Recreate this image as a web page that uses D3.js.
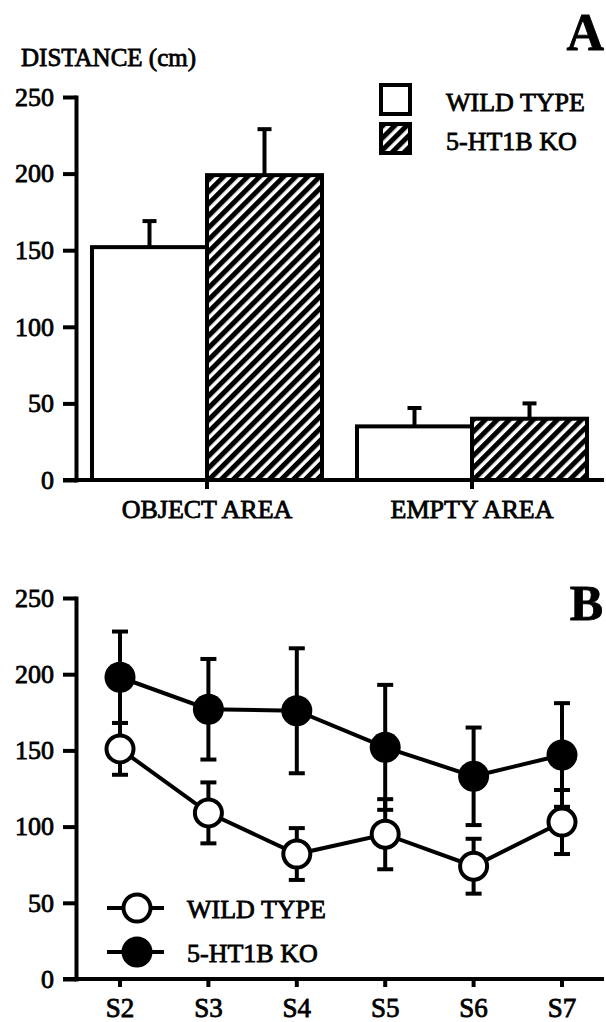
<!DOCTYPE html>
<html lang="en">
<head>
<meta charset="UTF-8">
<title>Distance - wild type vs 5-HT1B KO</title>
<script src="https://d3js.org/d3.v7.min.js"></script>
<style>
  body { margin: 0; background: #fff; }
  svg text { font-family: "Liberation Serif", "Times New Roman", serif; fill: #000; }
  .thick text { stroke: #000; stroke-width: 0.8px; }
</style>
</head>
<body>
<div id="chart"></div>
<script>
// panel A : distance by area
const areas = ["OBJECT AREA", "EMPTY AREA"];
const genotypes = ["WILD TYPE", "5-HT1B KO"];
const wtAreaMean = [152, 35];
const wtAreaSem = [17, 12];
const koAreaMean = [199, 40];
const koAreaSem = [30, 10];

// panel B : distance by session
const sessions = ["S2", "S3", "S4", "S5", "S6", "S7"];
const wtSessionMean = [151, 109, 82, 95, 74, 103];
const wtSessionSem = [17, 20, 17, 23, 18, 21];
const koSessionMean = [198, 177, 176, 152, 133, 147];
const koSessionSem = [30, 33, 41, 41, 32, 34];

const yTicks = [0, 50, 100, 150, 200, 250];

const W = 606, H = 1022;
const axisX = 76, rightEnd = 604, tick = 13;

const svg = d3.select("#chart").append("svg")
    .attr("width", W).attr("height", H)
    .attr("class", "thick");

// hatch pattern
const defs = svg.append("defs");
const pat = defs.append("pattern")
    .attr("id", "hatch")
    .attr("patternUnits", "userSpaceOnUse")
    .attr("width", 8.5).attr("height", 8.5)
    .attr("patternTransform", "rotate(45)");
pat.append("rect").attr("width", 8.5).attr("height", 8.5).attr("fill", "#fff");
pat.append("rect").attr("width", 5).attr("height", 8.5).attr("fill", "#000");

function yAxis(g, y) {
    g.attr("transform", "translate(" + axisX + ",0)")
        .call(d3.axisLeft(y).tickValues(yTicks).tickSize(tick).tickSizeOuter(0).tickPadding(9))
        .call(g => g.selectAll("path, line").attr("stroke", "#000").attr("stroke-width", 4))
        .call(g => g.select(".domain").attr("stroke-linecap", "square"))
        .call(g => g.selectAll("text").attr("font-size", 26).attr("font-family", null));
}

// ---------- panel A ----------
const yA = d3.scaleLinear().domain([0, 250]).range([480, 97]);
const xA = d3.scaleBand().domain(areas).range([74.5, 604.5]).paddingInner(0.132).paddingOuter(0.066);
const xSub = d3.scaleBand().domain(genotypes).range([0, xA.bandwidth()]);

const barData = [];
areas.forEach((a, i) => {
    barData.push({ area: a, g: genotypes[0], mean: wtAreaMean[i], sem: wtAreaSem[i] });
    barData.push({ area: a, g: genotypes[1], mean: koAreaMean[i], sem: koAreaSem[i] });
});

const gA = svg.append("g");

// error bars (upper only)
gA.selectAll(".errA").data(barData).enter().append("g")
    .each(function (d) {
        const cx = xA(d.area) + xSub(d.g) + xSub.bandwidth() / 2;
        const g = d3.select(this);
        g.append("line").attr("x1", cx).attr("x2", cx)
            .attr("y1", yA(d.mean)).attr("y2", yA(d.mean + d.sem))
            .attr("stroke", "#000").attr("stroke-width", 4);
        g.append("line").attr("x1", cx - 7).attr("x2", cx + 7)
            .attr("y1", yA(d.mean + d.sem)).attr("y2", yA(d.mean + d.sem))
            .attr("stroke", "#000").attr("stroke-width", 4);
    });

gA.selectAll(".bar").data(barData).enter().append("rect")
    .attr("x", d => xA(d.area) + xSub(d.g))
    .attr("width", xSub.bandwidth())
    .attr("y", d => yA(d.mean))
    .attr("height", d => yA(0) - yA(d.mean))
    .attr("fill", d => d.g === genotypes[0] ? "#fff" : "url(#hatch)")
    .attr("stroke", "#000").attr("stroke-width", 4);

gA.append("g").call(yAxis, yA);

// x axis A
gA.append("line").attr("x1", axisX - tick).attr("x2", rightEnd)
    .attr("y1", yA(0)).attr("y2", yA(0))
    .attr("stroke", "#000").attr("stroke-width", 4);
gA.selectAll(".xtA").data(areas).enter().append("line")
    .attr("x1", d => xA(d) + xA.bandwidth() / 2).attr("x2", d => xA(d) + xA.bandwidth() / 2)
    .attr("y1", yA(0)).attr("y2", yA(0) + 9)
    .attr("stroke", "#000").attr("stroke-width", 4);
gA.selectAll(".xlA").data(areas).enter().append("text")
    .attr("x", d => xA(d) + xA.bandwidth() / 2)
    .attr("y", yA(0) + 38)
    .attr("text-anchor", "middle")
    .attr("font-size", 26)
    .text(d => d);

gA.append("text").attr("x", 21).attr("y", 66).attr("font-size", 25).text("DISTANCE (cm)");
gA.append("text").attr("x", 604).attr("y", 50).attr("text-anchor", "end")
    .attr("font-size", 52).attr("font-weight", "bold").text("A");

// legend A
const legA = gA.append("g");
genotypes.forEach((g, i) => {
    const ly = 99 + i * 39;
    legA.append("rect").attr("x", 381).attr("y", ly - 14).attr("width", 29).attr("height", 29)
        .attr("fill", i === 0 ? "#fff" : "url(#hatch)")
        .attr("stroke", "#000").attr("stroke-width", 4);
    legA.append("text").attr("x", 446).attr("y", ly + 12).attr("font-size", 26).text(g);
});

// ---------- panel B ----------
const yB = d3.scaleLinear().domain([0, 250]).range([979, 598]);
const xB = d3.scalePoint().domain(sessions).range([120, 562]);

const gB = svg.append("g");

const series = [
    { name: genotypes[1], mean: koSessionMean, sem: koSessionSem, fill: "#000" },
    { name: genotypes[0], mean: wtSessionMean, sem: wtSessionSem, fill: "#fff" }
];

const line = d3.line().x((d, i) => xB(sessions[i])).y(d => yB(d));

series.forEach(s => {
    gB.append("path").datum(s.mean).attr("d", line)
        .attr("fill", "none").attr("stroke", "#000").attr("stroke-width", 4);
});

series.forEach(s => {
    sessions.forEach((sess, i) => {
        const cx = xB(sess), hi = yB(s.mean[i] + s.sem[i]), lo = yB(s.mean[i] - s.sem[i]);
        gB.append("line").attr("x1", cx).attr("x2", cx).attr("y1", hi).attr("y2", lo)
            .attr("stroke", "#000").attr("stroke-width", 4);
        [hi, lo].forEach(yy => gB.append("line")
            .attr("x1", cx - 8).attr("x2", cx + 8).attr("y1", yy).attr("y2", yy)
            .attr("stroke", "#000").attr("stroke-width", 4));
    });
});

series.forEach(s => {
    gB.selectAll(null).data(s.mean).enter().append("circle")
        .attr("cx", (d, i) => xB(sessions[i])).attr("cy", d => yB(d))
        .attr("r", s.fill === "#000" ? 15.5 : 13.5)
        .attr("fill", s.fill).attr("stroke", "#000").attr("stroke-width", s.fill === "#000" ? 0 : 4);
});

gB.append("g").call(yAxis, yB);

gB.append("line").attr("x1", axisX - tick).attr("x2", rightEnd)
    .attr("y1", yB(0)).attr("y2", yB(0))
    .attr("stroke", "#000").attr("stroke-width", 4);
gB.selectAll(".xtB").data(sessions).enter().append("line")
    .attr("x1", d => xB(d)).attr("x2", d => xB(d))
    .attr("y1", yB(0)).attr("y2", yB(0) + 8)
    .attr("stroke", "#000").attr("stroke-width", 4);
gB.selectAll(".xlB").data(sessions).enter().append("text")
    .attr("x", d => xB(d)).attr("y", 1017)
    .attr("text-anchor", "middle").attr("font-size", 27)
    .text(d => d);

gB.append("text").attr("x", 603).attr("y", 620).attr("text-anchor", "end")
    .attr("font-size", 50).attr("font-weight", "bold").text("B");

// legend B
[genotypes[0], genotypes[1]].forEach((g, i) => {
    const ly = 908 + i * 44;
    gB.append("line").attr("x1", 107).attr("x2", 164).attr("y1", ly).attr("y2", ly)
        .attr("stroke", "#000").attr("stroke-width", 4);
    gB.append("circle").attr("cx", 137).attr("cy", ly)
        .attr("r", i === 0 ? 13.5 : 15.5)
        .attr("fill", i === 0 ? "#fff" : "#000")
        .attr("stroke", "#000").attr("stroke-width", i === 0 ? 4 : 0);
    gB.append("text").attr("x", 187).attr("y", ly + 10).attr("font-size", 26).text(g);
});
</script>
</body>
</html>
